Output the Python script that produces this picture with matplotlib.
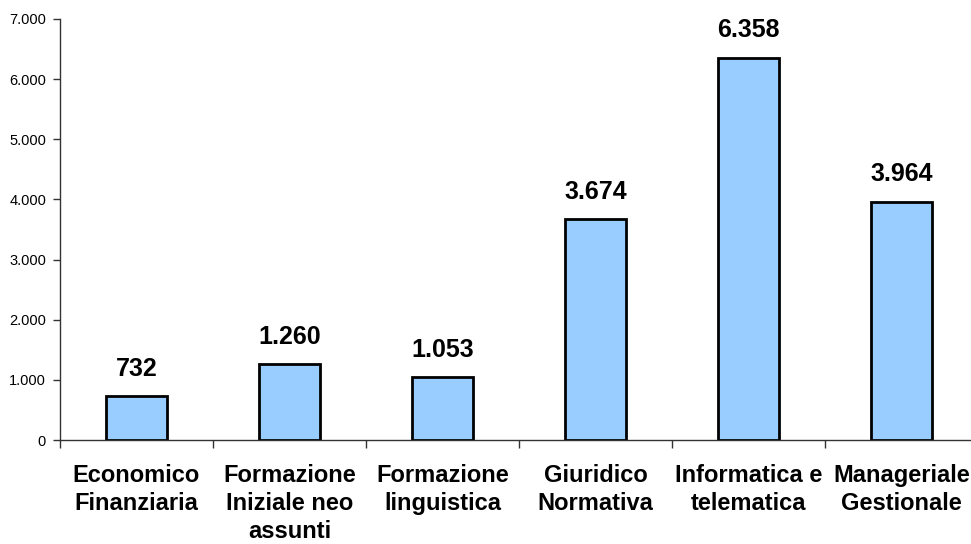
import numpy as np
import matplotlib.pyplot as plt

categories = ["Economico\nFinanziaria", "Formazione\nIniziale neo\nassunti", "Formazione\nlinguistica",
              "Giuridico\nNormativa", "Informatica e\ntelematica", "Manageriale\nGestionale"]
values = [732, 1260, 1053, 3674, 6358, 3964]

plt.rcParams["font.family"] = ["Liberation Sans", "DejaVu Sans"]

fig = plt.figure(figsize=(9.71, 5.44), dpi=100)
ax = fig.add_axes([60 / 971, 1 - 440 / 544, 918 / 971, 421 / 544])

x = np.arange(len(values))
ax.bar(x, values, width=0.4, color="#99CCFF", edgecolor="black", linewidth=2)

for xi, v in zip(x, values):
    ax.annotate(f"{v:,}".replace(",", "."), (xi, v), xytext=(0, 14.5), textcoords="offset points",
                ha="center", va="baseline", fontsize=18, fontweight="bold")

ax.set_xlim(-0.5, len(values) - 0.5)
ax.set_ylim(0, 7000)
ax.set_yticks(range(0, 7001, 1000))
ax.set_yticklabels([f"{t:,}".replace(",", ".") for t in range(0, 7001, 1000)], fontsize=10.5)

ax.set_xticks(np.arange(-0.5, len(values), 1.0))
ax.set_xticklabels([])
ax.set_xticks(x, minor=True)
ax.set_xticklabels(categories, minor=True, fontsize=17, fontweight="bold", linespacing=1.3)
ax.tick_params(axis="x", which="major", direction="out", length=6, width=1, color="#333333")
ax.tick_params(axis="x", which="minor", length=0, pad=17)
ax.tick_params(axis="y", direction="out", length=5, width=1, color="#333333", pad=5)

for s in ["top", "right"]:
    ax.spines[s].set_visible(False)
for s in ["left", "bottom"]:
    ax.spines[s].set_color("#333333")
    ax.spines[s].set_linewidth(1)

fig.savefig("out.png", dpi=100)
